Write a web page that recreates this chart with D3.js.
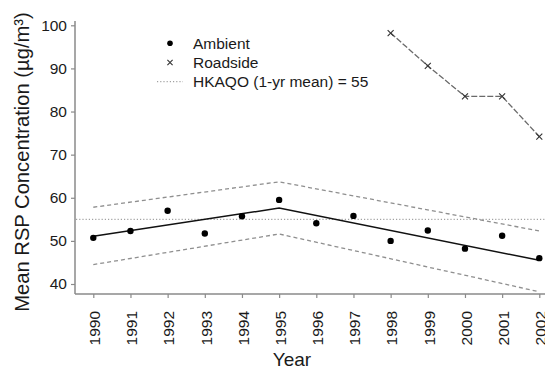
<!DOCTYPE html>
<html>
<head>
<meta charset="utf-8">
<script src="https://cdn.jsdelivr.net/npm/d3@7"></script>
<style>
  html, body { margin: 0; padding: 0; background: #fff; }
  svg { display: block; font-family: "Liberation Sans", Arial, Helvetica, sans-serif; }
</style>
</head>
<body>
<svg id="chart" width="545" height="370"></svg>
<script>
// Annual mean respirable suspended particulates (RSP), Hong Kong
const years = [1990, 1991, 1992, 1993, 1994, 1995, 1996, 1997, 1998, 1999, 2000, 2001, 2002];
const ambient = [50.7, 52.3, 57.0, 51.7, 55.7, 59.5, 54.1, 55.8, 50.0, 52.4, 48.2, 51.2, 46.0];

const roadsideYears = [1998, 1999, 2000, 2001, 2002];
const roadside = [98.2, 90.6, 83.5, 83.5, 74.2];

// Piecewise-linear trend (breakpoint 1995) with its confidence band
const trendYears = [1990, 1995, 2002];
const trendFit = [51.1, 57.6, 45.5];
const trendUpper = [57.8, 63.7, 52.3];
const trendLower = [44.5, 51.6, 38.2];

const hkaqo = 55;
const yTicks = [40, 50, 60, 70, 80, 90, 100];

const legendLabels = ["Ambient", "Roadside", "HKAQO (1-yr mean) = 55"];

// Layout
const W = 545, H = 370;
const box = { left: 75, right: 545, top: 21, bottom: 294 };

const svg = d3.select("#chart");

const x = d3.scaleLinear().domain([1990, 2002]).range([93.3, 539.3]);
const y = d3.scaleLinear().domain([40, 100]).range([284, 25.3]);

const axisColor = "#8a8a8a";
const textColor = "#1a1a1a";

// Guideline value
svg.append("line")
  .attr("x1", box.left + 1).attr("x2", box.right)
  .attr("y1", y(hkaqo)).attr("y2", y(hkaqo))
  .attr("stroke", "#8c8c8c").attr("stroke-width", 1)
  .attr("stroke-dasharray", "1.2,2");

// Confidence band lines
const line = d3.line().x(d => x(d[0])).y(d => y(d[1]));
[trendUpper, trendLower].forEach(vals => {
  svg.append("path")
    .datum(trendYears.map((t, i) => [t, vals[i]]))
    .attr("d", line)
    .attr("fill", "none")
    .attr("stroke", "#8f8f8f").attr("stroke-width", 1.3)
    .attr("stroke-dasharray", "4,3");
});

// Fitted trend
svg.append("path")
  .datum(trendYears.map((t, i) => [t, trendFit[i]]))
  .attr("d", line)
  .attr("fill", "none")
  .attr("stroke", "#111").attr("stroke-width", 1.5);

// Roadside series
svg.append("path")
  .datum(roadsideYears.map((t, i) => [t, roadside[i]]))
  .attr("d", line)
  .attr("fill", "none")
  .attr("stroke", "#6a6a6a").attr("stroke-width", 1.3)
  .attr("stroke-dasharray", "6,2");

function cross(g, cx, cy, s) {
  g.append("path")
    .attr("d", `M${cx - s},${cy - s}L${cx + s},${cy + s}M${cx - s},${cy + s}L${cx + s},${cy - s}`)
    .attr("stroke", "#333").attr("stroke-width", 1.1).attr("fill", "none");
}
const rs = svg.append("g");
roadsideYears.forEach((t, i) => cross(rs, x(t), y(roadside[i]), 3));

// Ambient points
svg.append("g").selectAll("circle")
  .data(years.map((t, i) => [t, ambient[i]]))
  .join("circle")
  .attr("cx", d => x(d[0])).attr("cy", d => y(d[1]))
  .attr("r", 3.2).attr("fill", "#000");

// Axes (L-shaped frame)
svg.append("line")
  .attr("x1", box.left).attr("x2", box.left)
  .attr("y1", box.top).attr("y2", box.bottom)
  .attr("stroke", axisColor).attr("stroke-width", 1.5);
svg.append("line")
  .attr("x1", box.left).attr("x2", box.right)
  .attr("y1", box.bottom).attr("y2", box.bottom)
  .attr("stroke", axisColor).attr("stroke-width", 1.5);

const yAxis = svg.append("g")
  .attr("transform", `translate(${box.left},0)`)
  .call(d3.axisLeft(y).tickValues(yTicks).tickSize(4).tickPadding(4).tickFormat(d3.format("d")));
yAxis.select(".domain").remove();
yAxis.selectAll(".tick line").attr("stroke", axisColor).attr("stroke-width", 1.2);
yAxis.selectAll(".tick text")
  .attr("fill", textColor).attr("font-size", 15.5)
  .attr("font-family", "Liberation Sans, Arial, sans-serif");

const xAxis = svg.append("g")
  .attr("transform", `translate(0,${box.bottom})`)
  .call(d3.axisBottom(x).tickValues(years).tickSize(4).tickFormat(d3.format("d")));
xAxis.select(".domain").remove();
xAxis.selectAll(".tick line").attr("stroke", axisColor).attr("stroke-width", 1.2);
xAxis.selectAll(".tick text")
  .attr("fill", textColor).attr("font-size", 15.5)
  .attr("font-family", "Liberation Sans, Arial, sans-serif")
  .attr("transform", "rotate(-90)")
  .attr("text-anchor", "end")
  .attr("x", -17).attr("y", 0).attr("dy", "0.4em");

// Axis titles
svg.append("text")
  .attr("transform", `translate(28.5,${(12 + 312) / 2}) rotate(-90)`)
  .attr("text-anchor", "middle")
  .attr("font-size", 20.2).attr("fill", textColor)
  .text("Mean RSP Concentration (µg/m³)");

svg.append("text")
  .attr("x", 292).attr("y", 366)
  .attr("text-anchor", "middle")
  .attr("font-size", 19).attr("fill", textColor)
  .text("Year");

// Legend
const lg = svg.append("g");
const lgX = 170, lgTextX = 193, lgY0 = 43.3, lgStep = 19.2;
lg.append("circle").attr("cx", lgX).attr("cy", lgY0).attr("r", 2.8).attr("fill", "#000");
cross(lg, lgX, lgY0 + lgStep, 2.6);
lg.append("line")
  .attr("x1", 157).attr("x2", 183)
  .attr("y1", lgY0 + 2 * lgStep).attr("y2", lgY0 + 2 * lgStep)
  .attr("stroke", "#8c8c8c").attr("stroke-width", 1).attr("stroke-dasharray", "1.2,2");
legendLabels.forEach((t, i) => {
  lg.append("text")
    .attr("x", lgTextX).attr("y", lgY0 + i * lgStep)
    .attr("dy", "0.36em")
    .attr("font-size", 15.5).attr("fill", textColor)
    .text(t);
});
</script>
</body>
</html>
